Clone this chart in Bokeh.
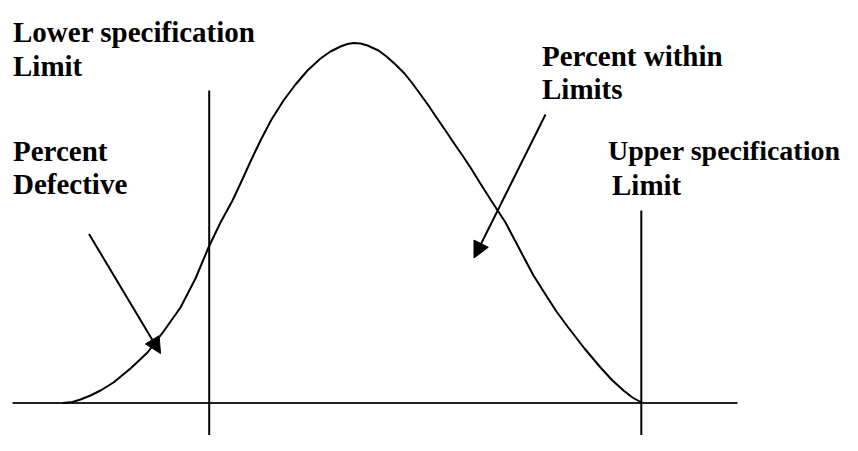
from bokeh.plotting import figure
from bokeh.models import Range1d, Arrow, NormalHead, ColumnDataSource
from bokeh.core.properties import value
from bokeh.embed import file_html
from bokeh.resources import INLINE

# Bell curve (x, y in picture units; y grows downward)
curve_x = [62, 72, 80, 90, 100, 113, 130, 147, 163, 180, 195, 208, 220, 232, 240,
           250, 260, 271, 283, 295, 307, 320, 330, 340, 347, 353, 360, 367, 378,
           386, 395, 404, 412, 420, 428, 436, 445, 453, 462, 470, 478, 490, 505,
           515, 525, 533, 545, 556, 567, 584, 600, 612, 623, 632, 641]
curve_y = [402.5, 401.5, 399, 395, 390, 382, 368, 352, 331, 307, 278, 247, 222, 200, 183,
           161, 140, 119, 100, 84, 70, 58, 51, 46, 43.5, 42.5, 43, 45, 50,
           56, 64, 73, 83, 94, 105, 117, 130, 142, 155, 167, 180, 199, 222,
           241, 260, 275, 294, 311, 326, 348, 367, 380, 390, 397, 402]

# Baseline and specification limits
base_x = [12, 737]
base_y = [402.5, 402.5]
lsl_x = [208.7, 208.7]
lsl_y = [90, 451]
usl_x = [640.8, 640.8]
usl_y = [210, 451]

# Arrows: start and end points
arrow_x0 = [88.5, 545.0]
arrow_y0 = [233.5, 114.0]
arrow_x1 = [160.0, 473.5]
arrow_y1 = [353.0, 257.5]

# Labels (one entry per line)
label_text = ["Lower specification", "Limit", "Percent", "Defective",
              "Percent within", "Limits", "Upper specification", "Limit"]
label_x = [12.5, 12.5, 12.5, 12.5, 541.5, 541.5, 607.5, 611.5]
label_y = [31.5, 65, 150, 183.5, 55, 88.5, 150, 184.5]
label_size = ["29px", "29px", "29px", "29px", "29px", "29px", "28px", "29px"]

p = figure(width=842, height=435, output_backend="svg", toolbar_location=None,
           x_range=Range1d(0, 842), y_range=Range1d(435, 0),
           min_border=0, min_border_left=0, min_border_right=0,
           min_border_top=0, min_border_bottom=0)
p.axis.visible = False
p.grid.visible = False
p.outline_line_color = None
p.background_fill_color = "white"
p.border_fill_color = "white"

p.line(base_x, base_y, line_color="#222222", line_width=2)
p.line(lsl_x, lsl_y, line_color="black", line_width=2)
p.line(usl_x, usl_y, line_color="black", line_width=2)
p.line(curve_x, curve_y, line_color="black", line_width=2, line_join="round")

for xs, ys, xe, ye in zip(arrow_x0, arrow_y0, arrow_x1, arrow_y1):
    p.add_layout(Arrow(end=NormalHead(size=16, fill_color="black", line_color="black",
                                      line_width=1),
                       x_start=xs, y_start=ys, x_end=xe, y_end=ye,
                       line_color="black", line_width=2))

src = ColumnDataSource(dict(x=label_x, y=label_y, t=label_text, s=label_size))
p.text(x="x", y="y", text="t", source=src, text_font=value("Liberation Serif"),
       text_font_style="bold", text_font_size="s", text_color="black",
       text_baseline="alphabetic", text_align="left")

open("out.html", "w").write(file_html(p, INLINE))
